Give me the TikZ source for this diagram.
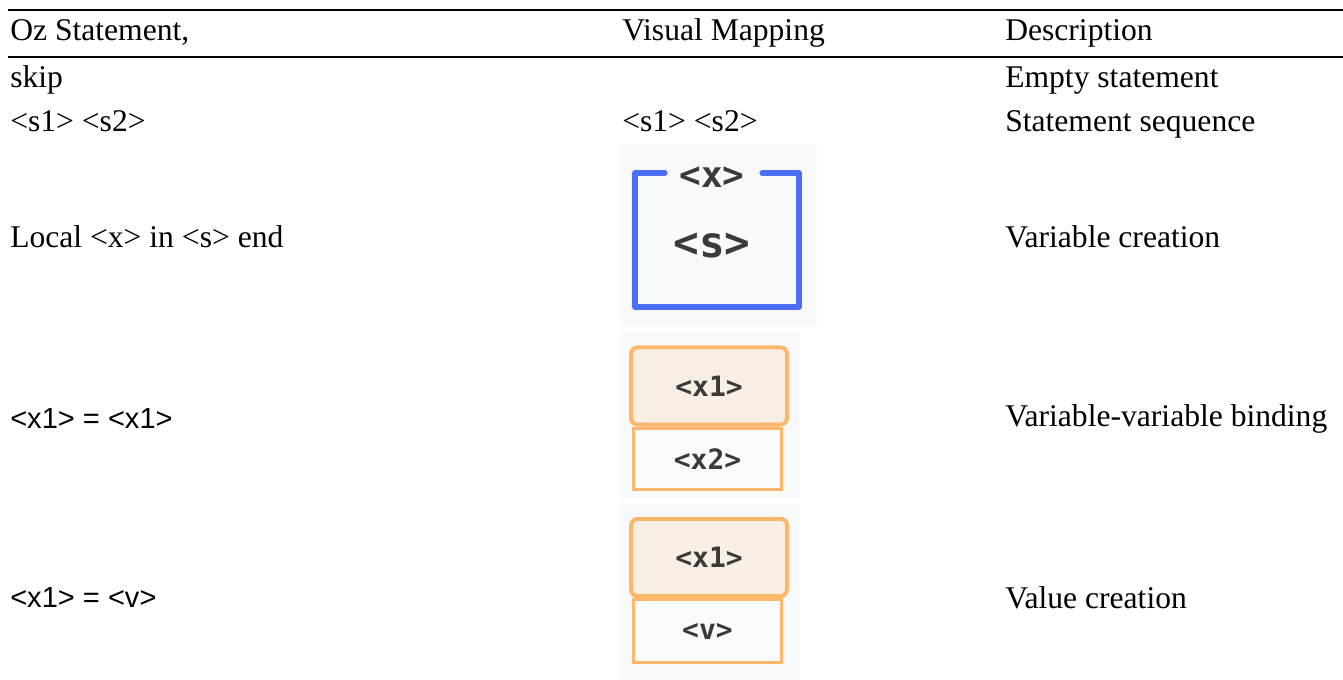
\documentclass[tikz,border=0pt]{standalone}
\usepackage{fontspec}
\setmainfont{Liberation Serif}
\newfontfamily\carl{Liberation Sans}
\newfontfamily\monof{DejaVu Sans Mono}
\definecolor{blueline}{HTML}{4C6EF5}
\definecolor{orangeline}{HTML}{FDB66A}
\definecolor{beige}{HTML}{F8EEE3}
\definecolor{panelbg}{HTML}{F8F9FA}
\definecolor{valfill}{HTML}{F9FAFB}
\definecolor{monogray}{HTML}{3A3A3A}
\begin{document}
\begin{tikzpicture}[x=0.75pt,y=-0.75pt,
  txt/.style={anchor=base west, inner sep=0pt, font=\fontsize{23.7}{28}\selectfont},
  sans/.style={anchor=base west, inner sep=0pt, font=\carl\fontsize{21.8}{27}\selectfont},
  mono/.style={inner sep=0pt, text=monogray, font=\monof\bfseries\fontsize{21}{25}\selectfont},
  panel/.style={fill=panelbg, draw=none},
  keybox/.style={draw=orangeline, fill=beige, line width=3pt, rounded corners=5pt, minimum width=117pt, minimum height=58pt, mono},
  valbox/.style={draw=orangeline, fill=valfill, line width=2.2pt, minimum width=111pt, mono},
  bracket/.style={draw=blueline, line width=3.8pt, line cap=round, line join=round},
  rule/.style={draw=black}
]
\useasboundingbox (0,0) rectangle (1343,679);
% rules
\coordinate (t1) at (8,10);
\coordinate (t2) at (1343,10);
\coordinate (m1) at (8,57);
\coordinate (m2) at (1343,57);
\draw[rule, line width=1.9pt] (t1) -- (t2);
\draw[rule, line width=1.3pt] (m1) -- (m2);
% header
\node[txt] (h1) at (10,40) {Oz Statement,};
\node[txt] (h2) at (622,40) {Visual Mapping};
\node[txt] (h3) at (1005,40) {Description};
% rows
\node[txt] (r1a) at (10,87) {skip};
\node[txt] (r1c) at (1005,87) {Empty statement};
\node[txt] (r2a) at (10,131) {<s1> <s2>};
\node[txt] (r2b) at (622,131) {<s1> <s2>};
\node[txt] (r2c) at (1005,131) {Statement sequence};
\node[txt] (r3a) at (10,247) {Local <x> in <s> end};
\node[txt] (r3c) at (1005,247) {Variable creation};
\node[sans] (r4a) at (10,428) {<x1> = <x1>};
\node[txt] (r4c) at (1005,426) {Variable-variable binding};
\node[sans] (r5a) at (10,607) {<x1> = <v>};
\node[txt] (r5c) at (1005,608) {Value creation};
% panel 1: local
\fill[panel] (620,144) rectangle (817,326);
\draw[bracket] (665,173) -- (635,173) -- (635,307) -- (799,307) -- (799,173) -- (762,173);
\node[mono, font=\monof\bfseries\fontsize{27}{32}\selectfont] (px) at (712,177) {<x>};
\node[mono, font=\monof\bfseries\fontsize{32}{38}\selectfont] (ps) at (712,246) {<s>};
% panel 2: var-var
\fill[panel] (620,332) rectangle (800,498);
\node[valbox, minimum height=46pt] (b2) at (707.5,459) {<x2>};
\node[keybox] (k2) at (709,386) {<x1>};
% panel 3: value
\fill[panel] (620,504) rectangle (800,679);
\node[valbox, minimum height=47pt] (b3) at (707.5,631) {<v>};
\node[keybox] (k3) at (709,557.5) {<x1>};
\end{tikzpicture}
\end{document}
